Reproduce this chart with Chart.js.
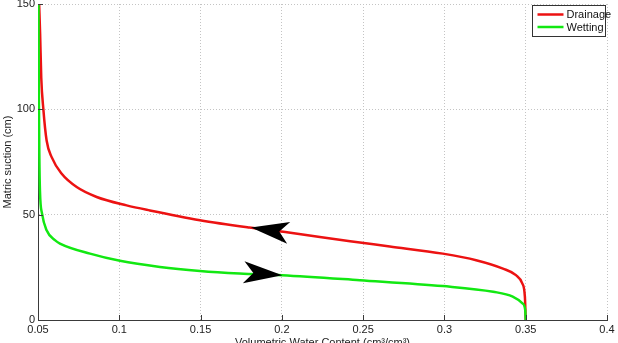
<!DOCTYPE html>
<html>
<head>
<meta charset="utf-8">
<script src="https://cdn.jsdelivr.net/npm/chart.js@4.4.0/dist/chart.umd.min.js"></script>
<style>
html, body { margin: 0; padding: 0; background: #fff; }
</style>
</head>
<body>
<canvas id="js-retentionChart" width="618" height="343"></canvas>
<script>
//data
var drainTheta   = [0.0507, 0.0513, 0.0520, 0.0533, 0.0553, 0.0584, 0.0646, 0.0738, 0.0861, 0.1045, 0.1188, 0.1496, 0.1800, 0.2042, 0.2420, 0.2664, 0.2990, 0.3195, 0.3360, 0.3440, 0.3478, 0.3495, 0.3500];
var drainSuction = [150,    136,    115,    100,    85.2,   77.3,   69.4,   63.1,   58.4,   54.4,   52.0,   47.4,   43.9,   41.5,   37.4,   34.9,   31.5,   28.4,   24.4,   21.3,   17.5,   11.0,   0];
var wetTheta     = [0.0503, 0.0505, 0.0508, 0.0512, 0.0525, 0.0553, 0.0604, 0.0635, 0.0820, 0.1004, 0.1250, 0.1496, 0.1740, 0.2000, 0.2480, 0.2990, 0.3300, 0.3420, 0.3480, 0.3497, 0.3500];
var wetSuction   = [150,    110,    80,     61.5,   50.5,   42.6,   37.9,   36.3,   31.5,   28.1,   25.2,   23.3,   22.1,   21.3,   18.9,   16.1,   13.4,   11.1,   7.9,    4.7,    0];
var seriesLabels = ['Drainage', 'Wetting'];
var xTicks = [0.05, 0.1, 0.15, 0.2, 0.25, 0.3, 0.35, 0.4];
var yTicks = [0, 50, 100, 150];
//arrow heads: tip and back of each head, in data units
var arrowTipTheta    = [0.1810, 0.2003];
var arrowTipSuction  = [43.9,   21.3];
var arrowBackTheta   = [0.2042, 0.1765];
var arrowBackSuction = [41.4,   22.7];

var FONT = "'Liberation Sans', Arial, Helvetica, sans-serif";
var RED = 'rgb(236,18,18)';
var GREEN = 'rgb(18,232,18)';

function toPoints(xs, ys) {
    return xs.map(function (x, i) { return { x: x, y: ys[i] }; });
}

//a. extras: inward ticks, arrow heads, legend
var extras = {
    id: 'extras',
    afterDraw: function (chart) {
        var ctx = chart.ctx;
        var xs = chart.scales.x, ys = chart.scales.y;
        var a = chart.chartArea;
        ctx.save();

        //inward tick marks
        ctx.strokeStyle = '#3a3a3a';
        ctx.lineWidth = 1;
        ctx.beginPath();
        xTicks.forEach(function (v) {
            var px = Math.round(xs.getPixelForValue(v)) + 0.5;
            ctx.moveTo(px, a.bottom);
            ctx.lineTo(px, a.bottom - 5);
        });
        yTicks.forEach(function (v) {
            var py = Math.round(ys.getPixelForValue(v)) + 0.5;
            ctx.moveTo(a.left, py);
            ctx.lineTo(a.left + 5, py);
        });
        ctx.stroke();

        //arrow heads
        ctx.fillStyle = '#000';
        for (var i = 0; i < arrowTipTheta.length; i++) {
            var tx = xs.getPixelForValue(arrowTipTheta[i]);
            var ty = ys.getPixelForValue(arrowTipSuction[i]);
            var bx = xs.getPixelForValue(arrowBackTheta[i]);
            var by = ys.getPixelForValue(arrowBackSuction[i]);
            var dx = bx - tx, dy = by - ty;
            var len = Math.sqrt(dx * dx + dy * dy);
            var ux = dx / len, uy = dy / len;
            var nx = -uy, ny = ux;
            var hw = 11;
            ctx.beginPath();
            ctx.moveTo(tx, ty);
            ctx.lineTo(bx + nx * hw, by + ny * hw);
            ctx.lineTo(tx + ux * len * 0.75, ty + uy * len * 0.75);
            ctx.lineTo(bx - nx * hw, by - ny * hw);
            ctx.closePath();
            ctx.fill();
        }

        //legend
        var bw = 73, bh = 31;
        var bl = Math.round(a.right) - 2 - bw + 0.5;
        var bt = Math.round(a.top) + 1 + 0.5;
        ctx.fillStyle = '#fff';
        ctx.fillRect(bl, bt, bw, bh);
        ctx.strokeStyle = '#333';
        ctx.lineWidth = 1;
        ctx.strokeRect(bl, bt, bw, bh);
        ctx.font = '11px ' + FONT;
        ctx.textBaseline = 'middle';
        ctx.textAlign = 'left';
        chart.data.datasets.forEach(function (ds, k) {
            var ry = bt + 9 + k * 12.5;
            ctx.strokeStyle = ds.borderColor;
            ctx.lineWidth = 2.5;
            ctx.beginPath();
            ctx.moveTo(bl + 5, ry);
            ctx.lineTo(bl + 31, ry);
            ctx.stroke();
            ctx.fillStyle = '#111';
            ctx.fillText(ds.label, bl + 34, ry + 0.5);
        });
        ctx.restore();
    }
};

var ctx = document.getElementById('js-retentionChart').getContext('2d');
var myChart = new Chart(ctx, {
    type: 'scatter',
    data: {
        datasets: [{
            label: seriesLabels[0],
            data: toPoints(drainTheta, drainSuction),
            borderColor: RED,
            backgroundColor: RED,
            borderWidth: 2.5,
            showLine: true,
            pointRadius: 0,
            cubicInterpolationMode: 'monotone',
            order: 1
        }, {
            label: seriesLabels[1],
            data: toPoints(wetTheta, wetSuction),
            borderColor: GREEN,
            backgroundColor: GREEN,
            borderWidth: 2.5,
            showLine: true,
            pointRadius: 0,
            cubicInterpolationMode: 'monotone',
            order: 0
        }]
    },
    options: {
        responsive: false,
        animation: false,
        devicePixelRatio: 1,
        layout: { padding: { top: 4, right: 11, left: 0, bottom: 0 } },
        plugins: {
            legend: { display: false },
            tooltip: { enabled: false }
        },
        scales: {
            x: {
                type: 'linear',
                min: 0.05,
                max: 0.4,
                afterBuildTicks: function (s) {
                    s.ticks = xTicks.map(function (v) { return { value: v }; });
                },
                afterFit: function (s) {
                    s.height = 23;
                    s.paddingLeft = 0;
                    s.paddingRight = 0;
                },
                ticks: {
                    autoSkip: false,
                    maxRotation: 0,
                    padding: 3,
                    color: '#222',
                    font: { family: FONT, size: 11 },
                    callback: function (v) { return String(Math.round(v * 100) / 100); }
                },
                grid: { color: '#c4c4c4', lineWidth: 1, drawTicks: false },
                border: { display: true, color: '#3a3a3a', width: 1, dash: [1, 2] },
                title: {
                    display: true,
                    text: 'Volumetric Water Content (cm³/cm³)',
                    color: '#222',
                    font: { family: FONT, size: 11 },
                    padding: { top: 0, bottom: -7 }
                }
            },
            y: {
                type: 'linear',
                min: 0,
                max: 150,
                afterBuildTicks: function (s) {
                    s.ticks = yTicks.map(function (v) { return { value: v }; });
                },
                afterFit: function (s) {
                    s.width = 38;
                    s.paddingTop = 0;
                    s.paddingBottom = 0;
                },
                ticks: {
                    autoSkip: false,
                    padding: 3,
                    color: '#222',
                    font: { family: FONT, size: 11 }
                },
                grid: { color: '#c4c4c4', lineWidth: 1, drawTicks: false },
                border: { display: true, color: '#3a3a3a', width: 1, dash: [1, 2] },
                title: {
                    display: true,
                    text: 'Matric suction (cm)',
                    color: '#222',
                    font: { family: FONT, size: 11 },
                    padding: { top: 1.5, bottom: 0 }
                }
            }
        }
    },
    plugins: [extras]
});
</script>
</body>
</html>
